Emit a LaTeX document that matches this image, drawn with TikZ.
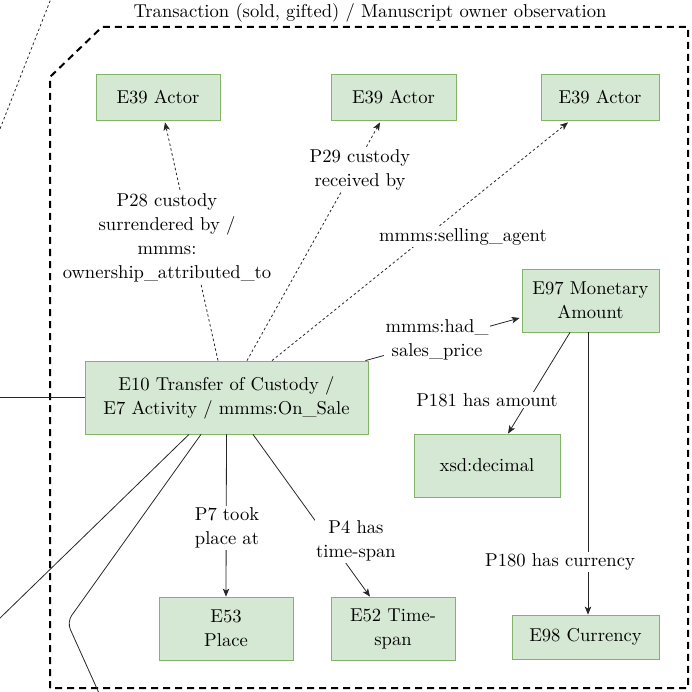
\documentclass[tikz,border=0pt]{standalone}
\usepackage{fontspec}
\setmainfont{lmroman10-regular}[Extension=.otf]
\usetikzlibrary{arrows.meta,calc}
\definecolor{boxfill}{HTML}{D5E8D4}
\definecolor{boxdraw}{HTML}{82B366}
\begin{document}
\begin{tikzpicture}[x=1pt,y=-1pt,
  every node/.style={font=\fontsize{18.6}{24}\selectfont, align=center, inner sep=0pt},
  ent/.style={draw=boxdraw, fill=boxfill, line width=0.8pt},
  rel/.style={line width=0.8pt, draw=black!85},
  dotrel/.style={line width=0.8pt, draw=black!85, dash pattern=on 2.5pt off 2.5pt},
  tip/.style={-{Stealth[length=8pt,width=6.5pt,inset=2pt]}},
  lbl/.style={fill=white, inner sep=1.5pt},
  frame/.style={line width=2pt, dash pattern=on 7pt off 5pt}]
\useasboundingbox (0,0) rectangle (692,692);

% group frame
\draw[frame] (50,688) -- (50,77) -- (102,27) -- (688,27) -- (688,688) -- cycle;
\node (title) at (370,13) {Transaction (sold, gifted) / Manuscript owner observation};

% outside dotted line
\coordinate (dotA) at (52,-4);
\coordinate (dotB) at (-2,134);
\draw[dotrel] (dotA) -- (dotB);

% entities
\node[ent, minimum width=124pt, minimum height=46pt] (a1) at (158,97) {E39 Actor};
\node[ent, minimum width=125pt, minimum height=46pt] (a2) at (393.5,97) {E39 Actor};
\node[ent, minimum width=118pt, minimum height=46pt] (a3) at (600,97) {E39 Actor};
\node[ent, minimum width=137pt, minimum height=63pt] (e97) at (590.5,300.5) {E97 Monetary\\Amount};
\node[ent, minimum width=283pt, minimum height=73pt] (e10) at (226.5,397.5) {E10 Transfer of Custody /\\E7 Activity / mmms:On\_Sale};
\node[ent, minimum width=146pt, minimum height=63pt] (xsd) at (487,465.5) {xsd:decimal};
\node[ent, minimum width=134pt, minimum height=63pt] (e53) at (226,628.5) {E53\\Place};
\node[ent, minimum width=124pt, minimum height=63pt] (e52) at (393,628.5) {E52 Time-\\span};
\node[ent, minimum width=147pt, minimum height=44pt] (e98) at (585.5,637) {E98 Currency};

% connectors
\draw[dotrel, tip] ([xshift=-8.5pt]e10.north) -- ([xshift=7pt,yshift=-2pt]a1.south);
\draw[dotrel, tip] ([xshift=20.5pt]e10.north) -- ([xshift=-13.5pt,yshift=-2pt]a2.south);
\draw[dotrel, tip] ([xshift=45.5pt]e10.north) -- ([xshift=-32pt,yshift=-2pt]a3.south);
\draw[rel, tip] ([xshift=-3pt]e10.north east) -- ([xshift=-2pt,yshift=-17.5pt]e97.west);
\draw[rel, tip] ([xshift=-20.5pt]e97.south) -- ([xshift=21pt]xsd.north);
\draw[rel, tip] ([xshift=-2.5pt]e97.south) -- ([xshift=2.5pt]e98.north);
\draw[rel, tip] (e10.south) -- (e53.north);
\draw[rel, tip] ([xshift=26.5pt]e10.south) -- ([xshift=-23pt]e52.north);

% connectors leaving the picture
\coordinate (leftA) at (-2,397.5);
\coordinate (leftB) at (-2,620);
\coordinate (bendC) at (67,622);
\coordinate (botC) at (103,702);
\draw[rel] (leftA) -- (e10.west);
\draw[rel] ([xshift=-37.5pt]e10.south) -- (leftB);
\draw[rel, rounded corners=8pt] ([xshift=-25.5pt]e10.south) -- (bendC) -- (botC);

% labels
\node[lbl] (l28) at (167,238) {P28 custody\\surrendered by /\\mmms:\\ownership\_attributed\_to};
\node[lbl] (l29) at (360,170) {P29 custody\\received by};
\node[lbl] (lsell) at (463,237) {mmms:selling\_agent};
\node[lbl] (lprice) at (437,340) {mmms:had\_\\sales\_price};
\node[lbl] (l181) at (487,400) {P181 has amount};
\node[lbl] (l180) at (560,562) {P180 has currency};
\node[lbl] (l7) at (227,528) {P7 took\\place at};
\node[lbl] (l4) at (356,541) {P4 has\\time-span};
\end{tikzpicture}
\end{document}
